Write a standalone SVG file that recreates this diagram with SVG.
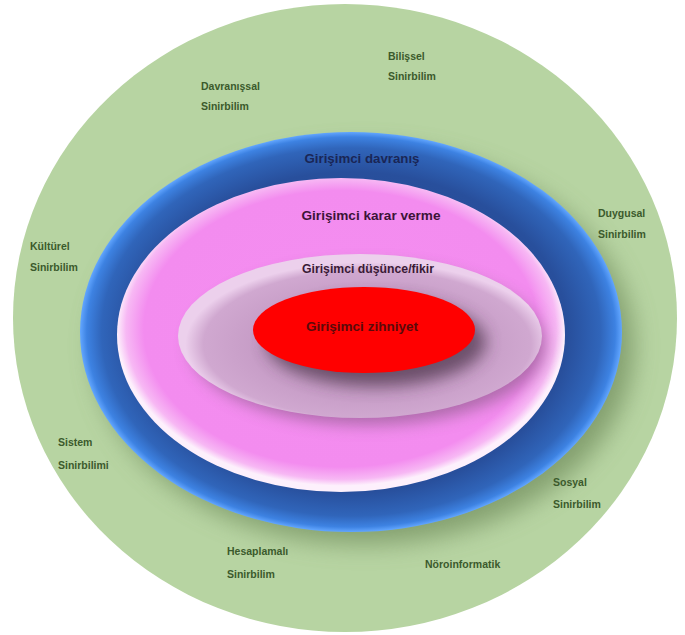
<svg xmlns="http://www.w3.org/2000/svg" width="685" height="635" viewBox="0 0 685 635">
<defs>
<style>
.lbl{font-family:"Liberation Sans",Arial,sans-serif;font-size:10.5px;font-weight:bold;fill:#3b5a2c}
.ttl{font-family:"Liberation Sans",Arial,sans-serif;font-size:13.5px;font-weight:bold;text-anchor:middle}
</style>
<radialGradient id="gBlue" cx="0.5" cy="0.5" r="0.5">
<stop offset="0" stop-color="#22428a"/>
<stop offset="0.8" stop-color="#284f9c"/>
<stop offset="0.92" stop-color="#3065ba"/>
<stop offset="0.975" stop-color="#3d82e2"/>
<stop offset="1" stop-color="#62a6ff"/>
</radialGradient>
<radialGradient id="gPink" cx="0.5" cy="0.48" r="0.5">
<stop offset="0" stop-color="#f58ef1"/>
<stop offset="0.88" stop-color="#f38cef"/>
<stop offset="0.96" stop-color="#f7b8f4"/>
<stop offset="1" stop-color="#fdf0fc"/>
</radialGradient>
<radialGradient id="gMauve" cx="0.52" cy="0.55" r="0.5">
<stop offset="0" stop-color="#ad88ab"/>
<stop offset="0.6" stop-color="#c69cc6"/>
<stop offset="0.9" stop-color="#d0a8d0"/>
<stop offset="1" stop-color="#ecd0ec"/>
</radialGradient>
<filter id="blur12" x="-20%" y="-20%" width="140%" height="140%"><feGaussianBlur stdDeviation="12"/></filter>
<filter id="blur8" x="-20%" y="-20%" width="140%" height="140%"><feGaussianBlur stdDeviation="8"/></filter>
</defs>
<rect width="685" height="635" fill="#ffffff"/>

<g id="outer">
<ellipse cx="345" cy="318" rx="332" ry="314" fill="#b7d4a2"/>
<ellipse cx="364" cy="346" rx="270" ry="198" fill="#6e8a5a" opacity="0.7" filter="url(#blur12)"/>
<text class="lbl" x="388" y="60">Bilişsel</text>
<text class="lbl" x="388" y="80">Sinirbilim</text>
<text class="lbl" x="201" y="90">Davranışsal</text>
<text class="lbl" x="201" y="110">Sinirbilim</text>
<text class="lbl" x="598" y="217">Duygusal</text>
<text class="lbl" x="598" y="238">Sinirbilim</text>
<text class="lbl" x="30" y="250">Kültürel</text>
<text class="lbl" x="30" y="271">Sinirbilim</text>
<text class="lbl" x="58" y="446">Sistem</text>
<text class="lbl" x="58" y="469">Sinirbilimi</text>
<text class="lbl" x="553" y="486">Sosyal</text>
<text class="lbl" x="553" y="508">Sinirbilim</text>
<text class="lbl" x="227" y="555">Hesaplamalı</text>
<text class="lbl" x="227" y="578">Sinirbilim</text>
<text class="lbl" x="425" y="568">Nöroinformatik</text>
</g>

<g id="davranis">
<ellipse cx="351" cy="332" rx="271" ry="200" fill="url(#gBlue)"/>
<text class="ttl" x="362" y="163" fill="#1a2656" textLength="115" lengthAdjust="spacingAndGlyphs">Girişimci davranış</text>
</g>

<g id="karar">
<ellipse cx="341" cy="335" rx="224" ry="157" fill="url(#gPink)"/>
<text class="ttl" x="371" y="220" fill="#3c1438" textLength="139" lengthAdjust="spacingAndGlyphs">Girişimci karar verme</text>
</g>

<g id="dusunce">
<ellipse cx="368" cy="345" rx="178" ry="80" fill="#6a4a68" opacity="0.5" filter="url(#blur8)"/>
<ellipse cx="360" cy="336" rx="182" ry="82" fill="url(#gMauve)"/>
<text class="ttl" x="368" y="273" fill="#3a1a36" textLength="132" lengthAdjust="spacingAndGlyphs">Girişimci düşünce/fikir</text>
</g>

<g id="zihniyet">
<ellipse cx="376" cy="342" rx="110" ry="44" fill="#4a3046" opacity="0.7" filter="url(#blur8)"/>
<ellipse cx="364" cy="330" rx="111" ry="43" fill="#ff0000"/>
<text class="ttl" x="362" y="331" fill="#5a0a0a" textLength="112" lengthAdjust="spacingAndGlyphs">Girişimci zihniyet</text>
</g>

<g id="connectors"></g>
</svg>
